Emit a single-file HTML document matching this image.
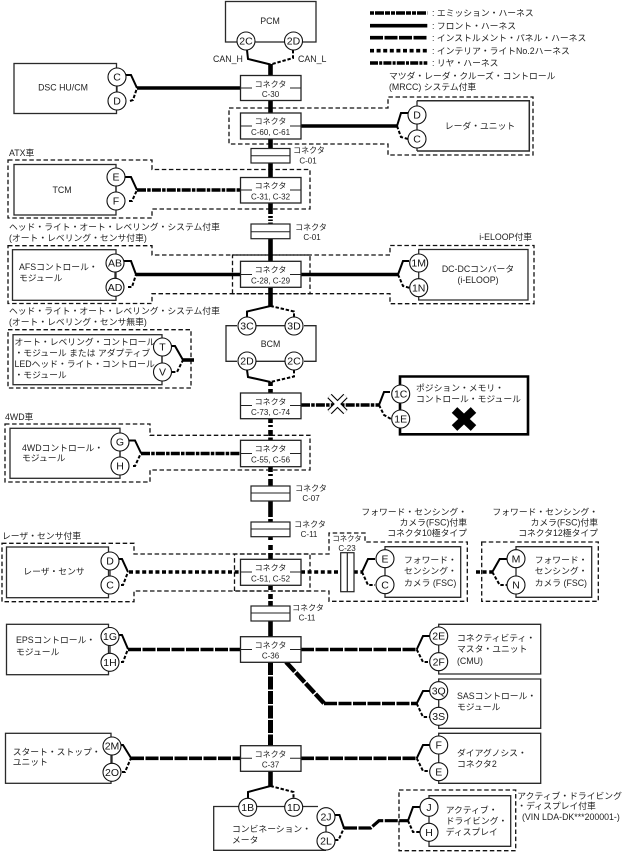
<!DOCTYPE html>
<html><head><meta charset="utf-8"><style>
html,body{margin:0;padding:0;background:#fff}
svg{display:block}
text{font-family:"Liberation Sans","Noto Sans CJK JP",sans-serif;font-size:8.8px;fill:#222}
.c{font-size:8px;text-anchor:middle}
.p{font-size:10.5px;text-anchor:middle;fill:#111}
.m{text-anchor:middle}
.e{text-anchor:end}
.b{fill:none;stroke:#2a2a2a;stroke-width:1.3}
.bx{fill:#fff;stroke:#222;stroke-width:1.3}
.k{fill:#fff;stroke:#222;stroke-width:1.2}
.o{fill:none;stroke:#111;stroke-width:1.3;stroke-dasharray:4.5 2.6}
.u{fill:none;stroke:#000;stroke-width:2}
.v{fill:none;stroke:#000;stroke-width:2;stroke-dasharray:3.4 1.8}
.t{fill:none;stroke:#000;stroke-width:3.6}
.dd{fill:none;stroke:#000;stroke-width:3.6;stroke-dasharray:9 1.2 3.5 1.2}
.sq{fill:none;stroke:#000;stroke-width:3.6;stroke-dasharray:4 2.6}
.ld{fill:none;stroke:#000;stroke-width:3.6;stroke-dasharray:13 1.5}
.V{fill:none;stroke:#000;stroke-width:4.6}
.cir{fill:#fff;stroke:#111;stroke-width:1.1}
.tk{stroke:#222;stroke-width:1}
</style></head><body>
<svg width="628" height="852" viewBox="0 0 628 852" xmlns="http://www.w3.org/2000/svg">

<!-- dashed option outlines -->
<path class="o" d="M229 108H388V97H533V155H388V144H229Z"/>
<path class="o" d="M8 160H152V169.5H310V209H152V218H8Z"/>
<path class="o" d="M8 245.7H152V255H310V293.7H152V303.5H8Z"/>
<path class="o" d="M232.5 293.7V255H390V245.5H534V303.7H390V293.7Z"/>
<path class="o" d="M8 329.7H191V388H8Z"/>
<path class="o" d="M5 424H150V435.3H310V470H150V482H5Z"/>
<path class="o" d="M2 543.3H134V554H310V591H134V601.7H2Z"/>
<path class="o" d="M234.5 591V554H329V533H365V542H467.3V601.3H329V591Z"/>
<path class="o" d="M481.7 542H598.3V601.3H481.7Z"/>
<path class="o" d="M399 790H515.7V850.7H399Z"/>

<!-- legend -->
<path d="M370 13H427.3" fill="none" stroke="#000" stroke-width="3.6" stroke-dasharray="4 1 9 1 5 1"/>
<path d="M370 25.7H427.3" class="t"/>
<path d="M370 37.7H427.3" fill="none" stroke="#000" stroke-width="3.6" stroke-dasharray="13 1.5"/>
<path d="M370 50.7H427.3" class="sq"/>
<path d="M370 63H427.3" fill="none" stroke="#000" stroke-width="3.6" stroke-dasharray="8 1.2 3 1.2"/>
<text x="432" y="16">: エミッション・ハーネス</text>
<text x="432" y="29">: フロント・ハーネス</text>
<text x="432" y="41">: インストルメント・パネル・ハーネス</text>
<text x="432" y="54">: インテリア・ライトNo.2ハーネス</text>
<text x="432" y="66">: リヤ・ハーネス</text>
<text x="389" y="79">マツダ・レーダ・クルーズ・コントロール</text>
<text x="389" y="90">(MRCC) システム付車</text>

<!-- central vertical -->
<path class="V" d="M270.5 64V75.5M270.5 100V113M270.5 139V148.5M270.5 163V177.5M270.5 203V214M270.5 216V218M270.5 219.5V221M270.5 222.5V224M270.5 239V261M270.5 287V306M270.5 382V386M270.5 389V393M270.5 419V423M270.5 425V427M270.5 430V436M270.5 437.5V440M270.5 467V472M270.5 474V476M270.5 479V486M270.5 501V517M270.5 519V522M270.5 537V540M270.5 545V550M270.5 553V559M270.5 586V590M270.5 594V599M270.5 601V606M270.5 621V637"/>
<path d="M270.5 662V746" fill="none" stroke="#000" stroke-width="5" stroke-dasharray="13 1.5"/>
<path d="M270.5 771V786" class="V"/>
<path d="M286 662L324 703.3" fill="none" stroke="#000" stroke-width="4.4" stroke-dasharray="13 1.5"/>

<!-- PCM -->
<rect class="b" x="225.5" y="1.5" width="90.5" height="40.5"/>
<path class="u" d="M247 50L248 59L270.5 64.5"/>
<path class="v" d="M293 50V58L270.5 64.5"/>
<circle class="cir" cx="246" cy="41" r="9"/><circle class="cir" cx="293.5" cy="41" r="9"/>
<text class="p" x="246" y="44.7">2C</text><text class="p" x="293.5" y="44.7">2D</text>
<text class="m" x="270" y="24">PCM</text>
<text x="213" y="62">CAN_H</text><text x="298" y="62">CAN_L</text>

<!-- DSC -->
<rect class="b" x="14" y="63.5" width="102.5" height="50"/>
<path class="b" d="M117 77V101"/>
<path class="u" d="M126 75H131L137 88"/><path class="v" d="M130 101L133 100L137 88"/>
<path class="t" d="M137 88H240"/>
<circle class="cir" cx="117" cy="77" r="9"/><circle class="cir" cx="117" cy="101" r="9"/>
<text class="p" x="117" y="80.7">C</text><text class="p" x="117" y="104.7">D</text>
<text class="m" x="63" y="90.5">DSC HU/CM</text>

<!-- Radar -->
<path class="t" d="M301 126H397"/>
<path class="u" d="M397 126L401 113H408"/><path class="v" d="M397 126L401 137L408 139"/>
<path d="M417 100.7H529.3V151H417" class="b" style="stroke-width:1.5"/>
<path class="b" d="M417 100.7V151"/>
<circle class="cir" cx="417" cy="115" r="9"/><circle class="cir" cx="417" cy="139" r="9"/>
<text class="p" x="417" y="118.7">D</text><text class="p" x="417" y="142.7">C</text>
<text class="m" x="480" y="129">レーダ・ユニット</text>

<!-- TCM -->
<text x="9" y="156">ATX車</text>
<rect class="b" x="14" y="164.5" width="102" height="50.5"/>
<path class="b" d="M116 177V201"/>
<path class="u" d="M125 177H131L137 190"/><path class="v" d="M129 201H132L137 190"/>
<path class="dd" d="M137 190H240"/>
<circle class="cir" cx="116" cy="177" r="9"/><circle class="cir" cx="116" cy="201" r="9"/>
<text class="p" x="116" y="180.7">E</text><text class="p" x="116" y="204.7">F</text>
<text class="m" x="62" y="193">TCM</text>

<!-- heading AFS -->
<text x="9" y="230">ヘッド・ライト・オート・レベリング・システム付車</text>
<text x="9" y="241">(オート・レベリング・センサ付車)</text>

<!-- AFS -->
<rect class="b" x="12.5" y="249.7" width="103.5" height="50.6"/>
<path class="b" d="M115 263V287"/>
<path class="u" d="M124 261H131L136 274.5"/><path class="v" d="M128 287H132L136 274.5"/>
<path class="t" d="M136 274.5H240"/>
<circle class="cir" cx="115" cy="263" r="9"/><circle class="cir" cx="115" cy="287.3" r="9"/>
<text class="p" x="115" y="266.7">AB</text><text class="p" x="115" y="291">AD</text>
<text x="19" y="270">AFSコントロール・</text><text x="19" y="281">モジュール</text>

<!-- DC-DC -->
<path class="t" d="M301 274.5H398"/>
<path class="u" d="M398 274.5L403 261H409"/><path class="v" d="M398 274.5L403 286L410 288"/>
<path class="b" d="M418.7 249.5H528V300H418.7Z"/>
<circle class="cir" cx="418.7" cy="263" r="9"/><circle class="cir" cx="418.7" cy="287.7" r="9"/>
<text class="p" x="418.7" y="266.7">1M</text><text class="p" x="418.7" y="291.4">1N</text>
<text class="m" x="478" y="272">DC-DCコンバータ</text><text class="m" x="478" y="283">(i-ELOOP)</text>
<text class="e" x="532" y="240">i-ELOOP付車</text>

<!-- heading AL -->
<text x="9" y="314">ヘッド・ライト・オート・レベリング・システム付車</text>
<text x="9" y="325">(オート・レベリング・センサ無車)</text>

<!-- T V -->
<rect class="b" x="13" y="334.7" width="149" height="50"/>
<path class="b" d="M162 347V372"/>
<path class="u" d="M171 346H175L183 360"/><path class="v" d="M172 372H177L183 360"/>
<path class="t" d="M183 360H194"/>
<circle class="cir" cx="162.5" cy="347" r="9"/><circle class="cir" cx="162.5" cy="372" r="9"/>
<text class="p" x="162.5" y="350.7">T</text><text class="p" x="162.5" y="375.7">V</text>
<text x="14.5" y="345">オート・レベリング・コントロール</text>
<text x="14.5" y="356">・モジュール または アダプティブ</text>
<text x="14.5" y="367">LEDヘッド・ライト・コントロール</text>
<text x="14.5" y="378">・モジュール</text>

<!-- BCM -->
<path class="b" d="M237 325.7H226V361.3H237M256 325.7H285M304 325.7H316V361.3H304M256 361.3H285"/>
<path class="u" d="M270.5 306L247 311.5V317"/><path class="v" d="M270.5 306L294 311.5V317"/>
<path class="u" d="M247 370L248 377L270.5 382"/><path class="v" d="M294 370V376.5L270.5 382"/>
<circle class="cir" cx="247" cy="326" r="9"/><circle class="cir" cx="294" cy="326" r="9"/>
<circle class="cir" cx="247" cy="361" r="9"/><circle class="cir" cx="294" cy="361" r="9"/>
<text class="p" x="247" y="329.7">3C</text><text class="p" x="294" y="329.7">3D</text>
<text class="p" x="247" y="364.7">2D</text><text class="p" x="294" y="364.7">2C</text>
<text class="m" x="270.5" y="347">BCM</text>

<!-- Position memory -->
<path class="dd" d="M301 405H379"/>
<path d="M329.5 396L345.5 412M345.5 396L329.5 412" fill="none" stroke="#000" stroke-width="6"/>
<path d="M329.5 396L345.5 412M345.5 396L329.5 412" fill="none" stroke="#fff" stroke-width="3.8"/>
<path class="u" d="M379 405L384 392H390"/><path class="v" d="M379 405L384 415L391 419"/>
<path d="M400 376.5H528V434.3H400Z" fill="none" stroke="#000" stroke-width="2.6"/>
<path d="M454.5 410L473.5 428M473.5 410L454.5 428" fill="none" stroke="#000" stroke-width="8"/>
<circle class="cir" cx="400.7" cy="394" r="9"/><circle class="cir" cx="400.7" cy="419" r="9"/>
<text class="p" x="400.7" y="397.7">1C</text><text class="p" x="400.7" y="422.7">1E</text>
<text x="416" y="391">ポジション・メモリ・</text><text x="416" y="402">コントロール・モジュール</text>

<!-- 4WD -->
<text x="5" y="420">4WD車</text>
<rect class="b" x="10" y="428.3" width="110" height="50"/>
<path class="b" d="M120 442V466"/>
<path class="u" d="M129 440.5H135L141 453"/><path class="v" d="M133 466H135L141 453"/>
<path class="dd" d="M141 453.5H240"/>
<circle class="cir" cx="120" cy="442" r="9"/><circle class="cir" cx="120" cy="466" r="9"/>
<text class="p" x="120" y="445.7">G</text><text class="p" x="120" y="469.7">H</text>
<text x="22" y="451">4WDコントロール・</text><text x="22" y="461">モジュール</text>

<!-- Laser -->
<text x="2" y="539">レーザ・センサ付車</text>
<rect class="b" x="6.5" y="547" width="102" height="50.7"/>
<path class="b" d="M110 561V585"/>
<path class="u" d="M119 559H122L128 572"/><path class="v" d="M121 585H123L128 572"/>
<path class="sq" d="M129 572H240"/>
<circle class="cir" cx="110" cy="561" r="9"/><circle class="cir" cx="110" cy="585" r="9"/>
<text class="p" x="110" y="564.7">D</text><text class="p" x="110" y="588.7">C</text>
<text class="m" x="54" y="574.5">レーザ・センサ</text>

<!-- FSC 10 -->
<path class="sq" d="M301 572H362"/>
<rect x="340.7" y="552.7" width="13.3" height="39" class="k"/><path class="tk" d="M347.3 552.7V591.7" style="stroke-width:1.2"/>
<path class="u" d="M362 572L368 559H375"/><path class="v" d="M362 572L368 585H375"/>
<path class="b" d="M385 546.7H460.7V597.3H385Z"/>
<circle class="cir" cx="385" cy="558.7" r="9"/><circle class="cir" cx="385" cy="584.7" r="9"/>
<text class="p" x="385" y="562.4">E</text><text class="p" x="385" y="588.4">C</text>
<text x="404" y="563">フォワード・</text><text x="404" y="574">センシング・</text><text x="404" y="586">カメラ (FSC)</text>
<text class="e" x="467" y="515">フォワード・センシング・</text>
<text class="e" x="467" y="525.5">カメラ(FSC)付車</text>
<text class="e" x="467" y="536">コネクタ10極タイプ</text>
<text class="c" x="347" y="541" style="font-size:7.4px">コネクタ</text><text class="c" x="347" y="551">C-23</text>

<!-- FSC 12 -->
<path class="sq" d="M476 572H492.3"/>
<path class="u" d="M492.3 572L499.7 559H507"/><path class="v" d="M492.3 572L499.7 585H507"/>
<path class="b" d="M516 546.7H591.7V597.3H516Z"/>
<circle class="cir" cx="516" cy="558.7" r="9"/><circle class="cir" cx="516" cy="585" r="9"/>
<text class="p" x="516" y="562.4">M</text><text class="p" x="516" y="588.7">N</text>
<text x="534.7" y="563">フォワード・</text><text x="534.7" y="574">センシング・</text><text x="534.7" y="586">カメラ (FSC)</text>
<text class="e" x="598" y="515">フォワード・センシング・</text>
<text class="e" x="598" y="525.5">カメラ(FSC)付車</text>
<text class="e" x="598" y="536">コネクタ12極タイプ</text>

<!-- EPS -->
<rect class="b" x="6.5" y="624.3" width="102" height="50.4"/>
<path class="b" d="M110 637V662"/>
<path class="u" d="M119 635H122L128 649"/><path class="v" d="M121 662H123L128 649"/>
<path class="ld" d="M128 649.5H240"/>
<circle class="cir" cx="110" cy="636.5" r="9"/><circle class="cir" cx="110" cy="662.3" r="9"/>
<text class="p" x="110" y="640.2">1G</text><text class="p" x="110" y="666">1H</text>
<text x="16" y="643">EPSコントロール・</text><text x="16" y="655">モジュール</text>

<!-- CMU -->
<path class="ld" d="M301 649.5H416.7"/>
<path class="u" d="M416.7 649.5L423 636H430"/><path class="v" d="M416.7 649.5L423 662H430"/>
<path class="b" d="M438.7 624.3H540.7V674H438.7Z"/>
<circle class="cir" cx="438.7" cy="636" r="9"/><circle class="cir" cx="438.7" cy="661.7" r="9"/>
<text class="p" x="438.7" y="639.7">2E</text><text class="p" x="438.7" y="665.4">2F</text>
<text x="457" y="641">コネクティビティ・</text><text x="457" y="652">マスタ・ユニット</text><text x="457" y="664">(CMU)</text>

<!-- SAS -->
<path class="ld" d="M324 703.5H416.7"/>
<path class="u" d="M416.7 703.5L423 691H430"/><path class="v" d="M416.7 703.5L423 717H430"/>
<path class="b" d="M438.7 679H540.7V728.3H438.7Z"/>
<circle class="cir" cx="438.7" cy="690.7" r="9"/><circle class="cir" cx="438.7" cy="716.3" r="9"/>
<text class="p" x="438.7" y="694.4">3Q</text><text class="p" x="438.7" y="720">3S</text>
<text x="457" y="699">SASコントロール・</text><text x="457" y="710">モジュール</text>

<!-- Start stop -->
<rect class="b" x="5.5" y="733.3" width="105.5" height="50"/>
<path class="b" d="M112 746V772"/>
<path class="u" d="M121 745H123L131 758"/><path class="v" d="M122 772H125L131 758"/>
<path class="ld" d="M131 758.3H240"/>
<circle class="cir" cx="112" cy="746" r="9"/><circle class="cir" cx="112" cy="772.3" r="9"/>
<text class="p" x="112" y="749.7">2M</text><text class="p" x="112" y="776">2O</text>
<text x="12.7" y="755">スタート・ストップ・</text><text x="12.7" y="765">ユニット</text>

<!-- DLC -->
<path class="ld" d="M301 758.3H416.7"/>
<path class="u" d="M416.7 758.3L423 745H430"/><path class="v" d="M416.7 758.3L423 771H430"/>
<path class="b" d="M438.7 733.3H540.7V783.3H438.7Z"/>
<circle class="cir" cx="438.7" cy="745" r="9"/><circle class="cir" cx="438.7" cy="771.7" r="9"/>
<text class="p" x="438.7" y="748.7">F</text><text class="p" x="438.7" y="775.4">E</text>
<text x="457" y="756">ダイアグノシス・</text><text x="457" y="767">コネクタ2</text>

<!-- Meter -->
<path class="b" d="M318 806.5H213.7V850.3H326"/>
<path class="b" d="M326 816V841"/>
<path class="u" d="M270.5 786L248 792V798"/><path class="v" d="M270.5 786L293.5 792V798"/>
<path class="u" d="M335 815H339.5L344 828"/><path class="v" d="M335 840H338.5L344 828"/>
<path d="M344 828H370.7L379 820.7H408" fill="none" stroke="#000" stroke-width="3.2" stroke-dasharray="13 1.5"/>
<circle class="cir" cx="247.7" cy="807.3" r="9"/><circle class="cir" cx="293.7" cy="807.3" r="9"/>
<circle class="cir" cx="326" cy="816.7" r="9"/><circle class="cir" cx="326" cy="841" r="9"/>
<text class="p" x="247.7" y="811">1B</text><text class="p" x="293.7" y="811">1D</text>
<text class="p" x="326" y="820.4">2J</text><text class="p" x="326" y="844.7">2L</text>
<text x="232" y="832">コンビネーション・</text><text x="232" y="843">メータ</text>

<!-- ADD -->
<path class="u" d="M408 820.7L413 807H420"/><path class="v" d="M408 820.7L413 832H420"/>
<path class="b" d="M429 795.7H510.7V846.3H429Z"/>
<circle class="cir" cx="429" cy="807.3" r="9"/><circle class="cir" cx="429" cy="832.3" r="9"/>
<text class="p" x="429" y="811">J</text><text class="p" x="429" y="836">H</text>
<text x="445.7" y="813">アクティブ・</text><text x="445.7" y="824">ドライビング・</text><text x="445.7" y="835">ディスプレイ</text>
<text x="517.3" y="799">アクティブ・ドライビング</text>
<text x="517.3" y="809">・ディスプレイ付車</text>
<text x="522" y="820">(VIN LDA-DK***200001-)</text>

<!-- connectors -->
<g>
<rect class="bx" x="240.5" y="75.5" width="60.5" height="25"/><path class="tk" d="M240.5 88H252M290 88H301"/>
<text class="c" x="270.5" y="87">コネクタ</text><text class="c" x="270.5" y="97">C-30</text>
<rect class="bx" x="240.5" y="113" width="60.5" height="26"/><path class="tk" d="M240.5 126H252M290 126H301"/>
<text class="c" x="270.5" y="124">コネクタ</text><text class="c" x="270.5" y="135">C-60, C-61</text>
<rect class="bx" x="240.5" y="177.5" width="60.5" height="25.5"/><path class="tk" d="M240.5 190H252M290 190H301"/>
<text class="c" x="270.5" y="188.5">コネクタ</text><text class="c" x="270.5" y="199.5">C-31, C-32</text>
<rect class="bx" x="240.5" y="261.3" width="60.5" height="26"/><path class="tk" d="M240.5 274.5H252M290 274.5H301"/>
<text class="c" x="270.5" y="272.5">コネクタ</text><text class="c" x="270.5" y="283.5">C-28, C-29</text>
<rect class="bx" x="240.5" y="393" width="60.5" height="25.7"/><path class="tk" d="M240.5 405.5H252M290 405.5H301"/>
<text class="c" x="270.5" y="404.5">コネクタ</text><text class="c" x="270.5" y="415">C-73, C-74</text>
<rect class="bx" x="240.5" y="440.3" width="60.5" height="26.4"/><path class="tk" d="M240.5 453.5H252M290 453.5H301"/>
<text class="c" x="270.5" y="451.5">コネクタ</text><text class="c" x="270.5" y="462.5">C-55, C-56</text>
<rect class="bx" x="240.5" y="559.3" width="60.5" height="26"/><path class="tk" d="M240.5 572H252M290 572H301"/>
<text class="c" x="270.5" y="570.5">コネクタ</text><text class="c" x="270.5" y="581.5">C-51, C-52</text>
<rect class="bx" x="240.5" y="636.7" width="60.5" height="25.6"/><path class="tk" d="M240.5 649.5H252M290 649.5H301"/>
<text class="c" x="270.5" y="648">コネクタ</text><text class="c" x="270.5" y="658.5">C-36</text>
<rect class="bx" x="240.5" y="745.7" width="60.5" height="25.6"/><path class="tk" d="M240.5 758.3H252M290 758.3H301"/>
<text class="c" x="270.5" y="757">コネクタ</text><text class="c" x="270.5" y="767.5">C-37</text>

<rect class="k" x="251" y="148.5" width="39" height="14.5"/><path class="tk" d="M251 155.7H290"/>
<text class="c" x="309" y="153">コネクタ</text><text class="c" x="308" y="163.5">C-01</text>
<rect class="k" x="251" y="224" width="39" height="14.7"/><path class="tk" d="M251 231.7H290"/>
<text class="c" x="311" y="230">コネクタ</text><text class="c" x="312" y="240">C-01</text>
<rect class="k" x="251" y="486" width="39" height="15"/><path class="tk" d="M251 493H290"/>
<text class="c" x="311" y="491">コネクタ</text><text class="c" x="311" y="501">C-07</text>
<rect class="k" x="251" y="522" width="39" height="14.7"/><path class="tk" d="M251 529H290"/>
<text class="c" x="310" y="527">コネクタ</text><text class="c" x="309" y="537">C-11</text>
<rect class="k" x="251" y="606" width="39" height="15"/><path class="tk" d="M251 613H290"/>
<text class="c" x="308" y="610.5">コネクタ</text><text class="c" x="307" y="620.5">C-11</text>
</g>
</svg>
</body></html>
